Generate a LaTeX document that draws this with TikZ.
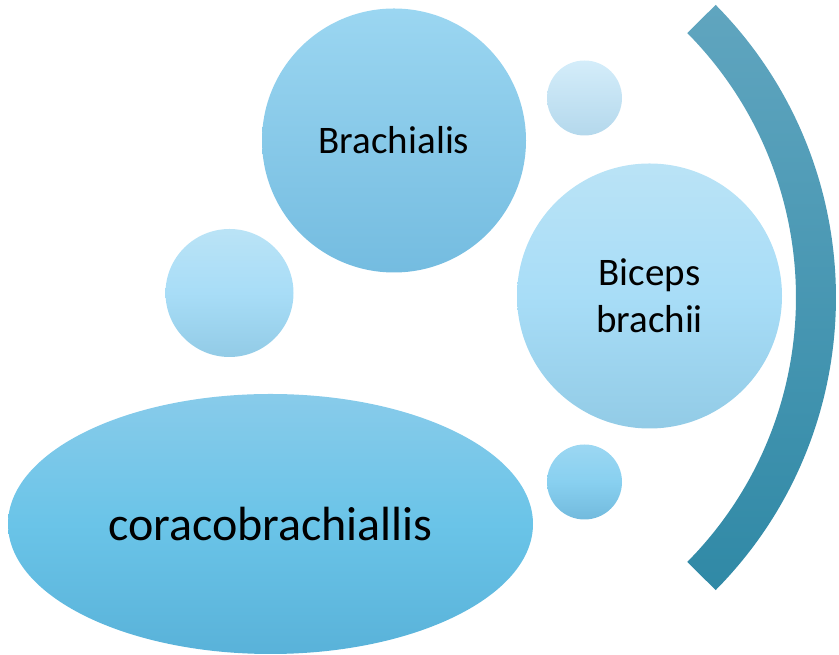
\documentclass[tikz,border=0pt]{standalone}
\usepackage{fontspec}
\setmainfont{Carlito}
\usetikzlibrary{shapes.geometric}
\definecolor{brachTop}{RGB}{155,214,241}
\definecolor{brachBot}{RGB}{116,188,224}
\definecolor{bicTop}{RGB}{186,227,246}
\definecolor{bicMid}{RGB}{168,221,247}
\definecolor{bicBot}{RGB}{146,203,230}
\definecolor{tsTop}{RGB}{212,237,250}
\definecolor{tsBot}{RGB}{180,216,236}
\definecolor{bsTop}{RGB}{156,215,242}
\definecolor{bsMid}{RGB}{136,208,240}
\definecolor{bsBot}{RGB}{114,186,221}
\definecolor{elTop}{RGB}{136,203,234}
\definecolor{elMid}{RGB}{106,196,232}
\definecolor{elBot}{RGB}{89,178,217}
\definecolor{arcTop}{RGB}{96,165,191}
\definecolor{arcBot}{RGB}{48,137,166}
\begin{document}
\begin{tikzpicture}[x=1pt,y=1pt,
  bubble/.style={circle, inner sep=0pt, draw=none, text=black, align=center},
  bigtext/.style={font=\fontsize{39}{47}\selectfont},
]
\useasboundingbox (0,0) rectangle (839,655);
% right arc band
\path[shift={(420,357.5)}, top color=arcTop, bottom color=arcBot]
  (44.7:416) arc[start angle=44.7, end angle=-44.7, radius=416]
  -- (-44.7:376) arc[start angle=-44.7, end angle=44.7, radius=376] -- cycle;
% bubbles
\node[bubble, bigtext, minimum size=264pt, top color=brachTop, bottom color=brachBot] (brach) at (394,514.5) {Brachialis};
\node[bubble, minimum size=75pt, top color=tsTop, bottom color=tsBot] (topsmall) at (584.5,557) {};
\node[bubble, bigtext, minimum size=265pt, top color=bicTop, bottom color=bicBot, middle color=bicMid] (biceps) at (649.5,359) {Biceps\\brachii};
\node[bubble, minimum size=128pt, top color=bicTop, bottom color=bicBot, middle color=bicMid] (leftc) at (229.5,362) {};
\node[bubble, minimum size=75pt, top color=bsTop, bottom color=bsBot, middle color=bsMid] (botsmall) at (584.5,173) {};
\node[ellipse, inner sep=0pt, draw=none, minimum width=525pt, minimum height=260pt,
  top color=elTop, bottom color=elBot, middle color=elMid,
  font=\fontsize{48}{58}\selectfont] (coraco) at (270.5,131) {coracobrachiallis};
\end{tikzpicture}
\end{document}
